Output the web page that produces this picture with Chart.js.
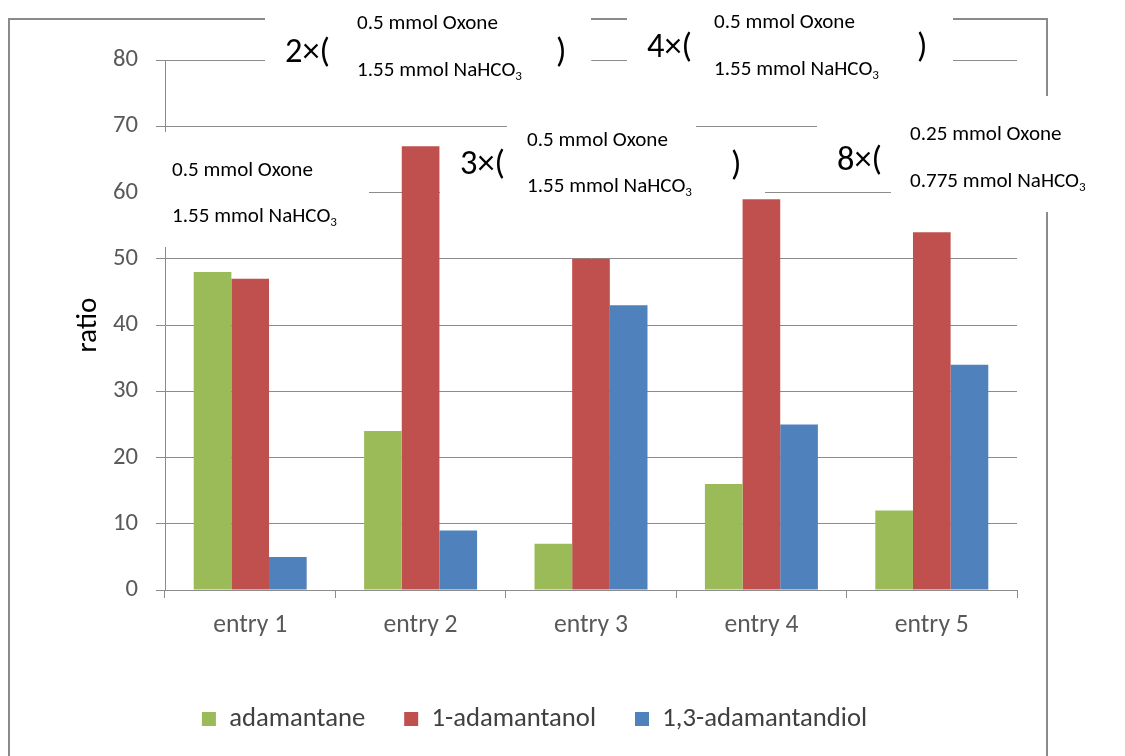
<!DOCTYPE html>
<html><head><meta charset="utf-8">
<script src="https://cdn.jsdelivr.net/npm/chart.js@4.4.1/dist/chart.umd.min.js"></script>
<style>html,body{margin:0;padding:0;background:#fff;overflow:hidden}#wrap{width:1125px;height:756px;position:relative}canvas{display:block}</style>
</head><body><div id="wrap"><canvas id="c" width="1125" height="756"></canvas></div>
<script>
// ---- data ----
const categories = ['entry 1', 'entry 2', 'entry 3', 'entry 4', 'entry 5'];
const adamantane = [48, 24, 7, 16, 12];
const adamantanol = [47, 67, 50, 59, 54];
const adamantandiol = [5, 9, 43, 25, 34];
const seriesNames = ['adamantane', '1-adamantanol', '1,3-adamantandiol'];
const yMin = 0, yMax = 80, yStep = 10;
const yTitle = 'ratio';
// annotation texts (condition boxes)
const condMultipliers = ['2×(', '4×(', '3×(', '8×('];
const condOxone = ['0.5 mmol Oxone', '0.5 mmol Oxone', '0.5 mmol Oxone', '0.5 mmol Oxone', '0.25 mmol Oxone'];
const condBase = ['1.55 mmol NaHCO₃', '1.55 mmol NaHCO₃', '1.55 mmol NaHCO₃', '1.55 mmol NaHCO₃', '0.775 mmol NaHCO₃'];

// ---- styling ----
const FAM = 'Carlito, Lato, "Liberation Sans", sans-serif';
const GRID = '#8c8c8c';
const FRAME = '#8a8a8a';
const TICK = '#595959';
const COLORS = ['#9BBB59', '#C0504D', '#4F81BD'];

const mctx = document.createElement('canvas').getContext('2d');
function fit(text, w) { mctx.font = '100px ' + FAM; return 100 * w / mctx.measureText(text).width; }
const yTickSize = fit('80', 25);
const xTickSize = fit('entry 1', 74);
const legendSize = fit('adamantane', 136);
const titleSize = fit('ratio', 55);
const smallSize = fit('0.5 mmol Oxone', 141);
const bigSize = fit('3×(', 45);

const LEFT_PAD = 52, RIGHT_PAD = 108, TOP_PAD = 60;
const AXIS_X = 165, AXIS_BOTTOM = 590;
const LEG_PAD = 39, BOX = 14;
const itemH = Math.max(legendSize, BOX);
const PB = 27 - itemH / 2;
const legH = itemH + LEG_PAD + 10;
const XH = 756 - PB - legH - AXIS_BOTTOM;

function drawChem(c, str, x, cy, size) {
  const parts = str.split('₃');
  const base = cy + 0.36 * size;
  c.textBaseline = 'alphabetic';
  c.textAlign = 'left';
  let cx = x;
  parts.forEach((p, i) => {
    c.font = size + 'px ' + FAM;
    c.fillText(p, cx, base);
    cx += c.measureText(p).width;
    if (i < parts.length - 1) {
      const ss = size * 0.62;
      c.font = ss + 'px ' + FAM;
      c.fillText('3', cx, base + size * 0.2);
      cx += c.measureText('3').width;
    }
  });
}

const deco = {
  id: 'deco',
  beforeDraw(chart) {
    const c = chart.ctx;
    c.save();
    c.strokeStyle = FRAME; c.lineWidth = 2;
    c.beginPath();
    c.moveTo(9, 770); c.lineTo(9, 19); c.lineTo(1047, 19); c.lineTo(1047, 770);
    c.stroke();
    c.restore();
  },
  beforeDatasetsDraw(chart) {
    const c = chart.ctx;
    c.save();
    c.fillStyle = '#ffffff';
    const rects = [
      [265, 0, 326, 92],
      [627, 0, 326, 92],
      [150, 132, 219, 115],
      [507, 104, 189, 30],
      [440, 132, 325, 72],
      [817, 96, 300, 38],
      [891, 96, 220, 116]
    ];
    rects.forEach(r => c.fillRect(r[0], r[1], r[2], r[3]));
    c.restore();
  },
  afterDatasetsDraw(chart) {
    const c = chart.ctx;
    c.save();
    c.fillStyle = '#000';
    const big = [[condMultipliers[0], 285, 50], [')', 556, 50], [condMultipliers[1], 647, 45], [')', 917, 45],
                 [condMultipliers[2], 460, 162], [')', 731, 163], [condMultipliers[3], 837, 158]];
    big.forEach(b => drawChem(c, b[0], b[1], b[2], bigSize));
    const small = [[0, 357, 21, 68], [1, 714, 20, 67], [2, 172, 168, 214], [3, 527, 138, 184], [4, 910, 132, 179]];
    small.forEach(s => {
      drawChem(c, condOxone[s[0]], s[1], s[2], smallSize);
      drawChem(c, condBase[s[0]], s[1], s[3], smallSize);
    });
    c.restore();
  }
};

const names = seriesNames;
new Chart(document.getElementById('c'), {
  type: 'bar',
  data: {
    labels: categories,
    datasets: [
      { label: names[0], data: adamantane, backgroundColor: COLORS[0] },
      { label: names[1], data: adamantanol, backgroundColor: COLORS[1] },
      { label: names[2], data: adamantandiol, backgroundColor: COLORS[2] }
    ]
  },
  options: {
    responsive: false,
    animation: false,
    devicePixelRatio: 1,
    datasets: { bar: { categoryPercentage: 0.663, barPercentage: 1.0, borderWidth: 0 } },
    layout: { padding: { left: LEFT_PAD, right: RIGHT_PAD, top: TOP_PAD, bottom: PB } },
    plugins: {
      tooltip: { enabled: false },
      legend: {
        position: 'bottom',
        labels: { boxWidth: BOX, boxHeight: BOX, padding: LEG_PAD, color: '#404040', font: { family: FAM, size: legendSize } }
      }
    },
    scales: {
      x: {
        grid: { display: true, drawOnChartArea: false, drawTicks: true, tickLength: 8, color: GRID, offset: true },
        border: { display: true, color: GRID, width: 1 },
        ticks: { color: TICK, font: { family: FAM, size: xTickSize }, padding: 28 - 0.6 * xTickSize, maxRotation: 0 },
        afterFit: s => { s.height = XH; }
      },
      y: {
        min: yMin, max: yMax,
        ticks: { stepSize: yStep, color: TICK, font: { family: FAM, size: yTickSize }, padding: 18 },
        grid: { color: GRID, tickLength: 9, lineWidth: 1 },
        border: { display: true, color: GRID, width: 1 },
        title: { display: true, text: yTitle, color: '#000', font: { family: FAM, size: titleSize }, padding: { top: 89 - LEFT_PAD - titleSize * 0.6, bottom: 0 } },
        afterFit: s => { s.width = AXIS_X - LEFT_PAD; }
      }
    }
  },
  plugins: [deco]
});
</script>
</body></html>
